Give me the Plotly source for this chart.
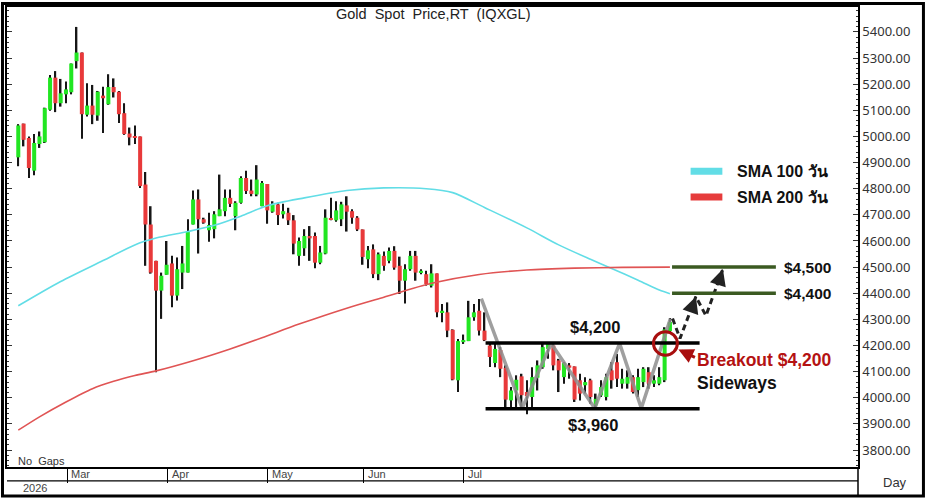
import plotly.graph_objects as go

# trading-day index and daily OHLC
day = list(range(1, 125))
open_ = [4920, 5049, 4994, 4869, 4971, 4978, 5102, 5225, 5127, 5161,
         5169, 5288, 5321, 5083, 5118, 5080, 5156, 5123, 5189, 5171,
         5089, 5011, 5000, 5000, 4816, 4663, 4524, 4410, 4471, 4514,
         4391, 4479, 4479, 4663, 4759, 4683, 4641, 4645, 4695, 4714,
         4765, 4695, 4746, 4841, 4793, 4778, 4733, 4818, 4712, 4740,
         4702, 4708, 4679, 4543, 4572, 4619, 4619, 4517, 4552, 4686,
         4679, 4683, 4736, 4714, 4689, 4644, 4530, 4568, 4473, 4543,
         4524, 4562, 4505, 4448, 4492, 4543, 4479, 4473, 4429, 4476,
         4327, 4327, 4260, 4067, 4213, 4217, 4308, 4333, 4257, 4200,
         4133, 4183, 4115, 3990, 4028, 4082, 4022, 4003, 4077, 4117,
         4187, 4200, 4143, 4079, 4124, 4120, 4067, 4048, 4067, 3971,
         4009, 4003, 4105, 4136, 4054, 4054, 4079, 4029, 4060, 4098,
         4054, 4054, 4067, 4255]
high = [5047, 5049, 5000, 5009, 5019, 5110, 5235, 5250, 5220, 5210,
        5279, 5419, 5321, 5203, 5197, 5174, 5190, 5238, 5222, 5174,
        5127, 5034, 5042, 5000, 4864, 4733, 4524, 4479, 4600, 4543,
        4537, 4581, 4683, 4793, 4797, 4689, 4708, 4714, 4854, 4797,
        4797, 4752, 4848, 4869, 4835, 4890, 4829, 4818, 4752, 4746,
        4742, 4727, 4699, 4613, 4645, 4657, 4632, 4581, 4721, 4765,
        4752, 4750, 4771, 4721, 4695, 4644, 4581, 4587, 4556, 4560,
        4575, 4580, 4540, 4511, 4562, 4562, 4492, 4486, 4511, 4476,
        4359, 4365, 4262, 4225, 4242, 4371, 4359, 4378, 4327, 4206,
        4206, 4194, 4124, 4041, 4086, 4092, 4067, 4117, 4143, 4206,
        4213, 4213, 4149, 4136, 4133, 4120, 4092, 4079, 4073, 4016,
        4067, 4092, 4136, 4168, 4111, 4105, 4086, 4111, 4117, 4117,
        4086, 4117, 4270, 4305]
low = [4886, 4962, 4841, 4851, 4956, 4975, 5098, 5093, 5114, 5127,
       5161, 5260, 4991, 5076, 5047, 5060, 5013, 5121, 5149, 5051,
       5006, 4966, 4971, 4803, 4505, 4475, 4098, 4302, 4471, 4346,
       4372, 4416, 4479, 4663, 4552, 4666, 4597, 4610, 4695, 4695,
       4730, 4641, 4742, 4780, 4771, 4771, 4733, 4666, 4708, 4661,
       4686, 4661, 4549, 4505, 4543, 4524, 4496, 4511, 4549, 4679,
       4674, 4657, 4636, 4666, 4638, 4509, 4496, 4458, 4450, 4486,
       4515, 4490, 4397, 4361, 4486, 4448, 4473, 4429, 4422, 4308,
       4289, 4232, 4067, 4022, 4206, 4217, 4295, 4238, 4217, 4118,
       4117, 4079, 3959, 3959, 3959, 3965, 3937, 3965, 4028, 4111,
       4149, 4105, 4022, 4054, 4073, 3984, 3990, 4016, 3978, 3959,
       4003, 3990, 4035, 4041, 4035, 4035, 4016, 4003, 4041, 4035,
       4041, 4048, 4060, 4248]
close = [5042, 4987, 4879, 4975, 5000, 5108, 5225, 5127, 5165, 5180,
         5279, 5321, 5085, 5118, 5083, 5171, 5146, 5189, 5169, 5085,
         5009, 4996, 4994, 4810, 4663, 4479, 4410, 4467, 4509, 4391,
         4492, 4514, 4638, 4759, 4683, 4670, 4661, 4702, 4721, 4765,
         4742, 4746, 4841, 4791, 4780, 4835, 4822, 4717, 4740, 4699,
         4714, 4679, 4590, 4600, 4619, 4610, 4517, 4556, 4689, 4681,
         4717, 4740, 4712, 4689, 4644, 4539, 4564, 4473, 4549, 4505,
         4562, 4498, 4448, 4492, 4543, 4479, 4486, 4435, 4476, 4327,
         4333, 4257, 4070, 4217, 4221, 4308, 4327, 4257, 4220, 4156,
         4187, 4111, 3993, 4028, 4069, 4010, 4006, 4079, 4124, 4194,
         4206, 4124, 4105, 4133, 4115, 3993, 4016, 4060, 4003, 3996,
         4041, 4079, 4067, 4073, 4073, 4079, 4022, 4079, 4111, 4054,
         4067, 4079, 4262, 4290]

# moving averages, sampled along the drawn curves
sma100_day = [1, 9, 17, 23, 27, 33, 38, 43, 48, 55, 63, 70, 78, 83, 89,
              97, 103, 109, 113, 118, 122, 124]
sma100 = [4352, 4445, 4525, 4585, 4611, 4636, 4660, 4695, 4735, 4765, 4793,
          4803, 4800, 4785, 4728, 4650, 4585, 4530, 4495, 4450, 4412, 4398]
sma200_day = [1, 5, 10, 15, 19, 23, 27, 34, 41, 47, 54, 63, 70, 79, 88, 97,
              106, 115, 124]
sma200 = [3876, 3927, 3984, 4035, 4063, 4085, 4103, 4142, 4187, 4230, 4282,
          4343, 4385, 4438, 4472, 4489, 4496, 4499, 4500]

month_pos = [10.2, 29.25, 48.1, 66.2, 85.1]
month_names = ["Mar", "Apr", "May", "Jun", "Jul"]

# sideways zigzag and projected path
zigzag_day = [88.4, 96.1, 101.6, 109.8, 114.5, 118.6, 124.1]
zigzag_px = [4379, 3960, 4208, 3960, 4208, 3960, 4303]
path_day = [124.5, 125.9, 128.9, 130.8, 134.0]
path_px = [4303, 4227, 4387, 4314, 4493]

resistance = 4210
support = 3958
targets = [4500, 4400]
target_labels = ["$4,500", "$4,400"]

GREEN = "#22e622"
RED = "#e8393a"
FONT = "Liberation Sans, Arial, Noto Sans, DejaVu Sans, sans-serif"

wick_h = [h - l for h, l in zip(high, low)]
body_base = [min(o, c) for o, c in zip(open_, close)]
body_h = [max(abs(c - o), 5) for o, c in zip(open_, close)]
body_col = [GREEN if c >= o else RED for o, c in zip(open_, close)]

fig = go.Figure()
# wicks and bodies are both bars so the bodies sit on top of the wicks
fig.add_trace(go.Bar(x=day, y=wick_h, base=low, width=0.3,
                     marker=dict(color="#161616", line=dict(width=0)),
                     hoverinfo="skip"))
fig.add_trace(go.Bar(x=day, y=body_h, base=body_base, width=0.76,
                     marker=dict(color=body_col, line=dict(width=0)),
                     hoverinfo="skip"))
fig.add_trace(go.Scatter(x=sma100_day, y=sma100, mode="lines",
                         line=dict(color="#62dde6", width=1.6, shape="spline",
                                   smoothing=0.8),
                         hoverinfo="skip"))
fig.add_trace(go.Scatter(x=sma200_day, y=sma200, mode="lines",
                         line=dict(color="#e05454", width=1.6, shape="spline",
                                   smoothing=0.8),
                         hoverinfo="skip"))
fig.add_trace(go.Scatter(x=zigzag_day, y=zigzag_px, mode="lines",
                         line=dict(color="#8f8f8f", width=3.5),
                         opacity=0.85, hoverinfo="skip"))
fig.add_trace(go.Scatter(x=path_day, y=path_px, mode="lines",
                         line=dict(color="#222222", width=3, dash="6px,4px"),
                         hoverinfo="skip"))

shapes = []
for lvl in (resistance, support):
    shapes.append(dict(type="line", xref="x", yref="y", x0=89.2, x1=129.6,
                       y0=lvl, y1=lvl, line=dict(color="black", width=3.5)))
for lvl in targets:
    shapes.append(dict(type="line", xref="x", yref="y", x0=124.4, x1=144.0,
                       y0=lvl, y1=lvl, line=dict(color="#3b5a22", width=3.5)))
# breakout circle
shapes.append(dict(type="circle", xref="x", yref="y", x0=120.9, x1=125.4,
                   y0=4163, y1=4253, line=dict(color="#a80e0e", width=3)))
# legend swatches
shapes.append(dict(type="line", xref="x", yref="y", x0=127.9, x1=133.9,
                   y0=4867, y1=4867, line=dict(color="#62dde6", width=7)))
shapes.append(dict(type="line", xref="x", yref="y", x0=127.9, x1=133.9,
                   y0=4768, y1=4768, line=dict(color="#e63c3c", width=7)))
# frame pieces outside the plot area
shapes.append(dict(type="line", xref="paper", yref="paper", x0=0, x1=1,
                   y0=-0.0303, y1=-0.0303, line=dict(color="black", width=1.2)))
shapes.append(dict(type="line", xref="paper", yref="paper", x0=1, x1=1,
                   y0=-0.063, y1=0, line=dict(color="black", width=1.5)))
shapes.append(dict(type="rect", xref="paper", yref="paper", x0=-0.0053,
                   x1=1.0769, y0=-0.0628, y1=1.0076,
                   line=dict(color="black", width=3)))

ann = []
ann.append(dict(text="Gold  Spot  Price,RT  (IQXGL)", xref="paper", yref="paper",
                x=(432 - 6) / 852, y=(467 - 12) / 462, showarrow=False,
                xanchor="center", yanchor="middle",
                font=dict(family=FONT, size=14.5, color="#222")))
ann.append(dict(text="No  Gaps", xref="paper", yref="paper", x=0.0106,
                y=(467 - 461) / 462, xanchor="left", yanchor="middle",
                showarrow=False, font=dict(family=FONT, size=11, color="#333")))
for p, m in zip(month_pos, month_names):
    ann.append(dict(text=m, xref="x", yref="paper", x=p, y=(467 - 474.5) / 462,
                    xanchor="left", yanchor="middle", xshift=2, showarrow=False,
                    font=dict(family=FONT, size=11, color="#444")))
ann.append(dict(text="2026", xref="paper", yref="paper", x=0.0164,
                y=(467 - 488.5) / 462, xanchor="left", yanchor="middle",
                showarrow=False, font=dict(family=FONT, size=11, color="#444")))
ann.append(dict(text="Day", xref="paper", yref="paper", x=(895 - 6) / 852,
                y=(467 - 483) / 462, xanchor="center", yanchor="middle",
                showarrow=False, font=dict(family=FONT, size=13, color="#333")))
for lvl, lab in zip(targets, target_labels):
    ann.append(dict(text="<b>%s</b>" % lab, x=145.2, y=lvl, xanchor="left",
                    showarrow=False, font=dict(family=FONT, size=15.5, color="#111")))
ann.append(dict(text="<b>$4,200</b>", x=109.9, y=4272, showarrow=False,
                font=dict(family=FONT, size=16.5, color="#111")))
ann.append(dict(text="<b>$3,960</b>", x=109.4, y=3895, showarrow=False,
                font=dict(family=FONT, size=16.5, color="#111")))
ann.append(dict(text="<b>SMA 100 วัน</b>", x=136.2, y=4867, xanchor="left",
                showarrow=False, font=dict(family=FONT, size=16, color="#111")))
ann.append(dict(text="<b>SMA 200 วัน</b>", x=136.2, y=4768, xanchor="left",
                showarrow=False, font=dict(family=FONT, size=16, color="#111")))
ann.append(dict(text="<b>Breakout $4,200</b>", x=128.8, y=4143, xanchor="left",
                showarrow=False, font=dict(family=FONT, size=17.5, color="#b41212")))
ann.append(dict(text="<b>Sideways</b>", x=128.8, y=4055, xanchor="left",
                showarrow=False, font=dict(family=FONT, size=17.5, color="#111")))
# arrows
ann.append(dict(text="", x=125.6, y=4185, ax=129.0, ay=4152, axref="x", ayref="y",
                showarrow=True, arrowhead=2, arrowsize=1, arrowwidth=3,
                arrowcolor="#a80e0e", standoff=0))
ann.append(dict(text="", x=path_day[2], y=path_px[2], ax=128.0, ay=4335,
                axref="x", ayref="y", showarrow=True, arrowhead=2, arrowsize=1.1,
                arrowwidth=3, arrowcolor="#222222", standoff=0))
ann.append(dict(text="", x=path_day[4], y=path_px[4], ax=133.0, ay=4430,
                axref="x", ayref="y", showarrow=True, arrowhead=2, arrowsize=1.1,
                arrowwidth=3, arrowcolor="#222222", standoff=0))

fig.update_layout(
    width=928, height=498,
    margin=dict(l=6, r=70, t=5, b=31),
    paper_bgcolor="white", plot_bgcolor="white",
    showlegend=False, shapes=shapes, annotations=ann, barmode="overlay",
    xaxis=dict(range=[-1.13, 159.5], showgrid=False, zeroline=False,
               showline=True, linecolor="black", linewidth=1.5, mirror=True,
               ticks="outside", ticklen=14, tickcolor="black", tickwidth=1,
               tickvals=month_pos, showticklabels=False, fixedrange=True),
    yaxis=dict(side="right", range=[3735.2, 5495.2], tick0=0, dtick=100,
               tickformat=".2f", ticks="inside", ticklen=5, tickcolor="#333",
               showline=True, linecolor="black", linewidth=1.5, mirror="ticks",
               minor=dict(dtick=20, ticks="inside", ticklen=2.5, tickcolor="#333"),
               showgrid=False, zeroline=False,
               tickfont=dict(family="Noto Sans, DejaVu Sans", size=13, color="#333")),
)

# the page body has a default margin; drop it so the figure fills the window
fig.write_html("out.html", config={"displayModeBar": False},
               post_script="document.body.style.margin='0';")
